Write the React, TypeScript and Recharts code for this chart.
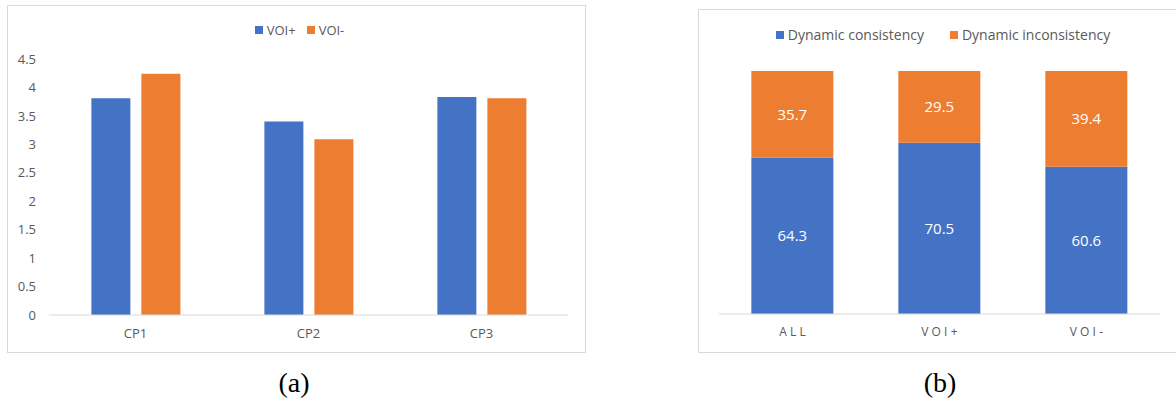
import React from "react";
import { BarChart, Bar, XAxis, YAxis, Legend, LabelList } from "recharts";

// Chart (a)
const cpCategories = ["CP1", "CP2", "CP3"];
const voiPlusScores = [3.81, 3.4, 3.83];
const voiMinusScores = [4.24, 3.09, 3.81];
const scoreTicks = [0, 0.5, 1, 1.5, 2, 2.5, 3, 3.5, 4, 4.5];

// Chart (b)
const groupCategories = ["ALL", "VOI+", "VOI-"];
const consistencyPct = [64.3, 70.5, 60.6];
const inconsistencyPct = [35.7, 29.5, 39.4];

const BLUE = "#4472C4";
const ORANGE = "#ED7D31";
const GREY = "#595959";
const BORDER = "#d9d9d9";
const FONT = "'Open Sans', 'Noto Sans', sans-serif";

const dataA = cpCategories.map((c, i) => ({
  name: c,
  plus: voiPlusScores[i],
  minus: voiMinusScores[i],
}));

const dataB = groupCategories.map((c, i) => ({
  name: c,
  cons: consistencyPct[i],
  incons: inconsistencyPct[i],
}));

const makeLegend = (fontSize: number, gap: number) => (props: any) => {
  const payload = props.payload || [];
  return (
    <div
      style={{
        display: "flex",
        justifyContent: "center",
        alignItems: "center",
        fontFamily: FONT,
        fontSize,
        color: GREY,
        whiteSpace: "nowrap",
        lineHeight: "16px",
      }}
    >
      {payload.map((p: any, i: number) => (
        <span
          key={i}
          style={{
            display: "inline-flex",
            alignItems: "center",
            marginRight: i < payload.length - 1 ? gap : 0,
          }}
        >
          <span
            style={{
              display: "inline-block",
              width: 8,
              height: 8,
              background: p.color,
              marginRight: 4,
            }}
          />
          {p.value}
        </span>
      ))}
    </div>
  );
};

const SpacedTick = (props: any) => {
  const { x, y, payload } = props;
  return (
    <text
      x={x + 1.5}
      y={y}
      dy="0.71em"
      textAnchor="middle"
      fill={GREY}
      fontFamily={FONT}
      fontSize={12}
      letterSpacing={3.2}
    >
      {payload.value}
    </text>
  );
};

export default function App() {
  return (
    <div
      style={{
        position: "absolute",
        left: 0,
        top: 0,
        width: 1176,
        height: 408,
        overflow: "hidden",
        background: "#fff",
      }}
    >
      {/* Chart (a) */}
      <div
        style={{
          position: "absolute",
          left: 7,
          top: 5,
          width: 579,
          height: 348,
          border: `1px solid ${BORDER}`,
          boxSizing: "border-box",
        }}
      >
        <BarChart
          width={577}
          height={346}
          data={dataA}
          margin={{ top: 53, right: 17, bottom: 7, left: 11 }}
          barCategoryGap="24.5%"
          barGap={11}
        >
          <XAxis
            dataKey="name"
            axisLine={{ stroke: BORDER }}
            tickLine={false}
            tickSize={0}
            tickMargin={14}
            height={30}
            tick={{ fill: GREY, fontFamily: FONT, fontSize: 13 }}
          />
          <YAxis
            domain={[0, 4.5]}
            ticks={scoreTicks}
            axisLine={false}
            tickLine={false}
            tickSize={0}
            tickMargin={13}
            width={30}
            interval={0}
            tick={{ fill: GREY, fontFamily: FONT, fontSize: 13 }}
          />
          <Legend
            verticalAlign="middle"
            wrapperStyle={{ top: 16, left: 0, width: 583 }}
            content={makeLegend(13, 11)}
          />
          <Bar dataKey="plus" name="VOI+" fill={BLUE} isAnimationActive={false} />
          <Bar dataKey="minus" name="VOI-" fill={ORANGE} isAnimationActive={false} />
        </BarChart>
      </div>

      {/* Chart (b) */}
      <div
        style={{
          position: "absolute",
          left: 698,
          top: 9,
          width: 500,
          height: 344,
          border: `1px solid ${BORDER}`,
          boxSizing: "border-box",
        }}
      >
        <BarChart
          width={488}
          height={342}
          data={dataB}
          margin={{ top: 61, right: 27, bottom: 8, left: 20 }}
          barCategoryGap="22%"
        >
          <XAxis
            dataKey="name"
            axisLine={{ stroke: BORDER }}
            tickLine={false}
            tickSize={0}
            tickMargin={13}
            height={30}
            tick={<SpacedTick />}
          />
          <YAxis hide domain={[0, 100]} />
          <Legend
            verticalAlign="middle"
            wrapperStyle={{ top: 17, left: 0, width: 488 }}
            content={makeLegend(14, 26)}
          />
          <Bar
            dataKey="cons"
            name="Dynamic consistency"
            stackId="s"
            fill={BLUE}
            isAnimationActive={false}
          >
            <LabelList
              dataKey="cons"
              position="center"
              fill="#fff"
              fontFamily={FONT}
              fontSize={15}
            />
          </Bar>
          <Bar
            dataKey="incons"
            name="Dynamic inconsistency"
            stackId="s"
            fill={ORANGE}
            isAnimationActive={false}
          >
            <LabelList
              dataKey="incons"
              position="center"
              fill="#fff"
              fontFamily={FONT}
              fontSize={15}
            />
          </Bar>
        </BarChart>
      </div>

      {/* Captions */}
      <div
        style={{
          position: "absolute",
          left: 244,
          top: 365,
          width: 100,
          textAlign: "center",
          fontFamily: "'Liberation Serif', 'DejaVu Serif', serif",
          fontSize: 28,
          lineHeight: "36px",
          color: "#000",
        }}
      >
        (a)
      </div>
      <div
        style={{
          position: "absolute",
          left: 890,
          top: 365,
          width: 100,
          textAlign: "center",
          fontFamily: "'Liberation Serif', 'DejaVu Serif', serif",
          fontSize: 28,
          lineHeight: "36px",
          color: "#000",
        }}
      >
        (b)
      </div>
    </div>
  );
}
